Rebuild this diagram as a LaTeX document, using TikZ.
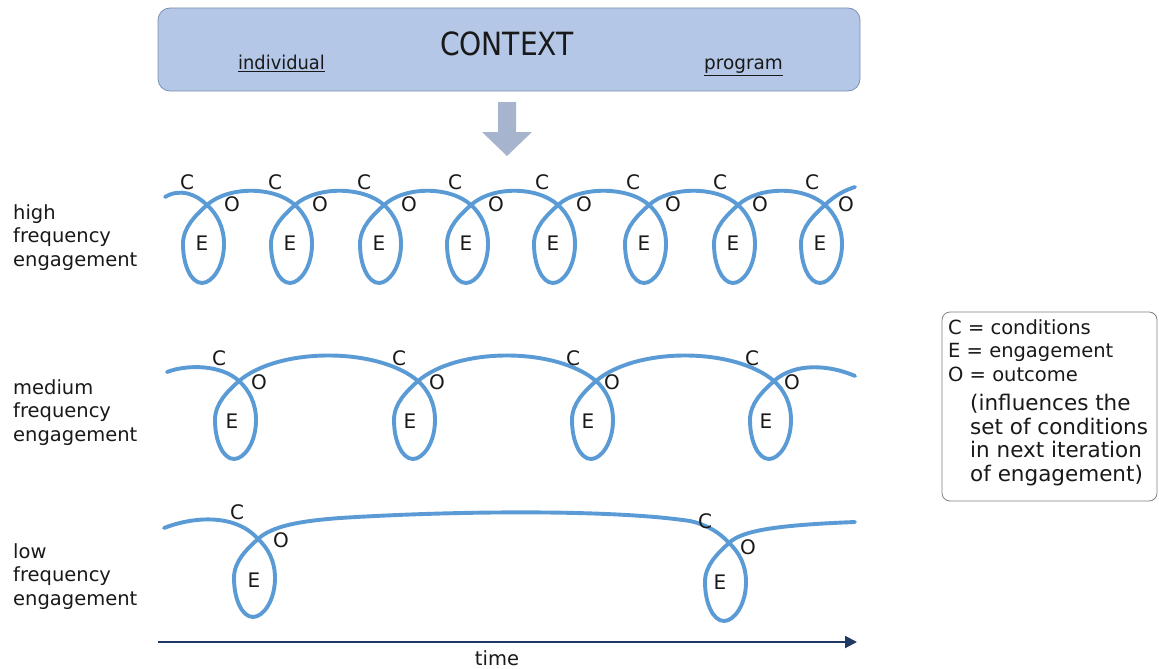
\documentclass[tikz,border=0pt]{standalone}
\usepackage{fontspec}
\setmainfont{DejaVu Sans}
\usetikzlibrary{arrows.meta}

\definecolor{ink}{RGB}{25,25,25}
\definecolor{ctxfill}{RGB}{180,199,231}
\definecolor{ctxline}{RGB}{125,145,180}
\definecolor{blockarrow}{RGB}{167,180,205}
\definecolor{strandblue}{RGB}{91,155,213}
\definecolor{legendline}{RGB}{128,128,128}
\definecolor{axisnavy}{RGB}{31,56,100}

\tikzset{
  eloop/.pic={
    \draw[strand] (0,0) .. controls (10,9) and (17,22) .. (17,39)
      .. controls (17,62) and (5,78) .. (-5,78)
      .. controls (-16,78) and (-24,60) .. (-24,39)
      .. controls (-24,22) and (-11,10) .. (0,0);
  }
}

\begin{document}
\begin{tikzpicture}[x=1pt,y=-1pt,
  every node/.style={text=ink, inner sep=0pt},
  strand/.style={draw=strandblue, line width=3.9pt, line cap=round, line join=round},
  letter/.style={font=\fontsize{20}{24}\selectfont},
  rowlabel/.style={align=left, anchor=base west, font=\fontsize{19.5}{23.5}\selectfont},
  legendtext/.style={anchor=base west, font=\fontsize{19.5}{23.5}\selectfont},
  notetext/.style={align=left, anchor=base west, font=\fontsize{21.5}{23.5}\selectfont},
  ctxbox/.style={draw=ctxline, line width=0.8pt, fill=ctxfill, rounded corners=12pt},
  legendbox/.style={draw=legendline, line width=0.8pt, rounded corners=8pt},
  timeaxis/.style={draw=axisnavy, line width=2pt, -{Triangle[length=12pt,width=12pt]}}
]
\useasboundingbox (0,0) rectangle (1159,669);
\fill[white] (0,0) rectangle (1159,669);

% context banner
\node[ctxbox, minimum width=702pt, minimum height=83pt] (ctx) at (509,49.5) {};
\node (ctxtitle) at (507,43.5) {\fontsize{32}{36}\selectfont\scalebox{0.88}[1]{CONTEXT}};
\node[anchor=base west] (indiv) at (238,70) {\fontsize{19}{23}\selectfont\scalebox{0.94}[1]{\underline{individual}}};
\node[anchor=base west] (prog) at (704,70) {\fontsize{19}{23}\selectfont\scalebox{0.97}[1]{\underline{program}}};

% block arrow below the banner
\fill[blockarrow] (498,102) -- (516,102) -- (516,132) -- (532,132) -- (507,156)
  -- (482,132) -- (498,132) -- cycle;

% row labels (anchored at the baseline of their last line)
\node[rowlabel] (lhigh) at (13,266) {high\\frequency\\engagement};
\node[rowlabel] (lmed) at (13,441) {medium\\frequency\\engagement};
\node[rowlabel] (llow) at (13,605) {low\\frequency\\engagement};

% high frequency strand
\draw[strand] (165,197) .. controls (180,188) and (196,194) .. (207,205);
\foreach \a/\b in {207/295,295/384,384/471,471/558,558/649,649/738,738/825}
  \draw[strand] (\a,205) .. controls ({\a+21},186) and ({\b-21},186) .. (\b,205);
\draw[strand] (825,205) .. controls (834,196) and (845,190) .. (855,187);
\foreach \x in {207,295,384,471,558,649,738,825}
  \pic at (\x,205) {eloop};
\foreach \c/\o/\e [count=\i] in {187/232/202,275/320/290,364/409/379,455/496/466,
    542/584/553,633/673/644,720/760/733,812/846/820}{
  \node[letter] (hc\i) at (\c,182) {C};
  \node[letter] (ho\i) at (\o,204.5) {O};
  \node[letter] (he\i) at (\e,243.5) {E};
}

% medium frequency strand
\draw[strand] (167,372) .. controls (188,364) and (222,365) .. (239,381);
\foreach \a/\b in {239/418,418/596,596/774}
  \draw[strand] (\a,381) .. controls ({\a+40},347) and ({\b-40},347) .. (\b,381);
\draw[strand] (774,381) .. controls (795,362) and (830,365) .. (855,376);
\foreach \x in {239,418,596,774}
  \pic at (\x,381) {eloop};
\foreach \c/\o/\e [count=\i] in {219/259/232,399/437/410,573/612/588,752/792/766}{
  \node[letter] (mc\i) at (\c,358) {C};
  \node[letter] (mo\i) at (\o,382) {O};
  \node[letter] (me\i) at (\e,421) {E};
}

% low frequency strand
\draw[strand] (164,528) .. controls (195,516) and (236,514) .. (258,539);
\draw[strand] (258,539) .. controls (272,526) and (300,521) .. (340,518)
  .. controls (450,511) and (610,509) .. (690,521)
  .. controls (708,525) and (720,533) .. (729,543);
\draw[strand] (729,543) .. controls (742,530) and (780,525) .. (855,522);
\pic at (258,539) {eloop};
\pic at (729,543) {eloop};
\node[letter] (lc1) at (237,512) {C};
\node[letter] (lo1) at (281,540) {O};
\node[letter] (le1) at (254,580) {E};
\node[letter] (lc2) at (705,521) {C};
\node[letter] (lo2) at (748,547) {O};
\node[letter] (le2) at (720,582) {E};

% time axis
\coordinate (t0) at (158,642);
\coordinate (t1) at (857,642);
\draw[timeaxis] (t0) -- (t1);
\node[anchor=base] (timelbl) at (497,665) {\fontsize{19.5}{23.5}\selectfont time};

% legend
\node[legendbox, minimum width=215pt, minimum height=189pt] (legend) at (1049.5,406.5) {};
\node[legendtext] (kc) at (948,334) {C = conditions};
\node[legendtext] (ke) at (948,357.5) {E = engagement};
\node[legendtext] (ko) at (948,381) {O = outcome};
\node[notetext] (knote) at (970,481) {(influences the\\set of conditions\\in next iteration\\of engagement)};
\end{tikzpicture}
\end{document}
